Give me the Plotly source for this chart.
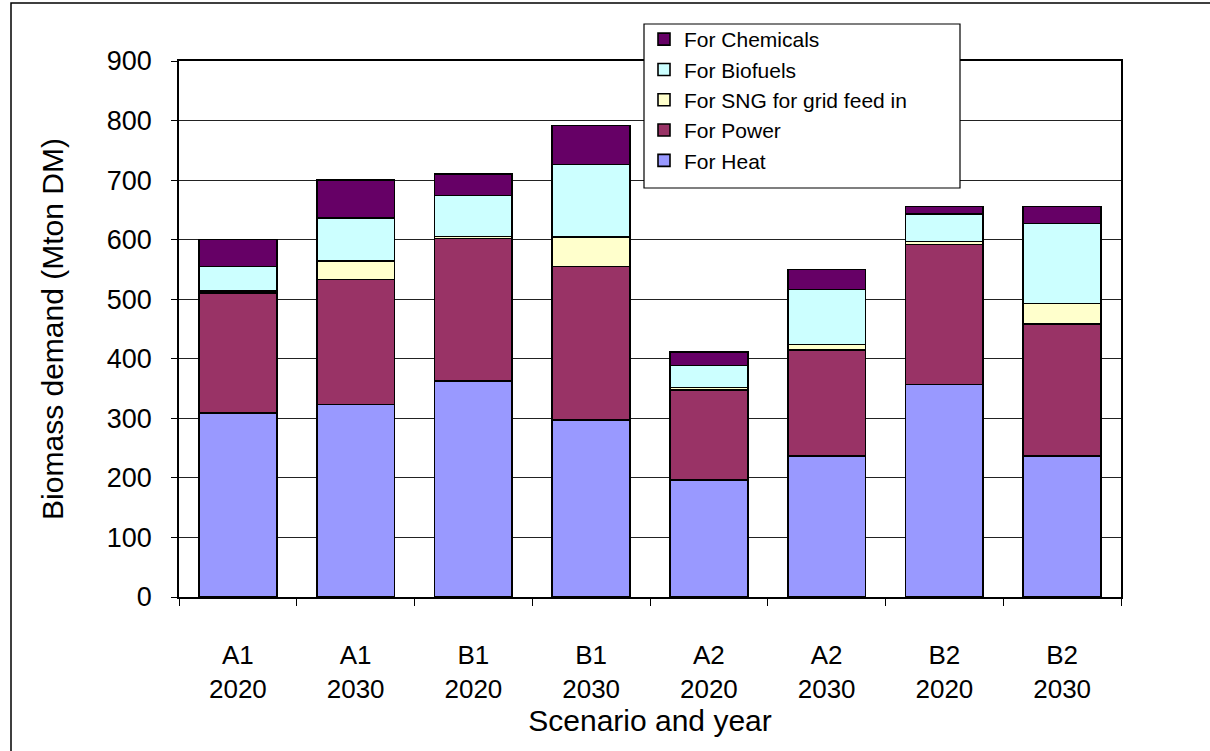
import plotly.graph_objects as go

# Scenario / year categories (two-line tick labels)
categories = ["A1<br>2020", "A1<br>2030", "B1<br>2020", "B1<br>2030",
              "A2<br>2020", "A2<br>2030", "B2<br>2020", "B2<br>2030"]

# Biomass demand per end use, Mton DM
heat      = [309, 323, 363, 297, 196, 237, 357, 237]
power     = [201, 210, 239, 258, 152, 178, 235, 221]
sng_grid  = [4, 31, 3, 49, 4, 9, 5, 35]
biofuels  = [41, 72, 69, 122, 37, 92, 46, 134]
chemicals = [45, 64, 36, 66, 22, 34, 13, 29]

series = [
    ("For Heat", heat, "#9999FF"),
    ("For Power", power, "#993366"),
    ("For SNG for grid feed in", sng_grid, "#FFFFCC"),
    ("For Biofuels", biofuels, "#CCFFFF"),
    ("For Chemicals", chemicals, "#660066"),
]

FONT = "Arial, Liberation Sans, sans-serif"

# plot area in pixels: x 179..1121, y 61..597
PL, PR, PT, PB = 179, 1121, 61, 597
W, H = PR - PL, PB - PT


def px_x(x):
    return (x - PL) / W


def px_y(y):
    return (PB - y) / H


fig = go.Figure()
for name, vals, color in series:
    fig.add_trace(go.Bar(
        x=categories, y=vals, name=name, legendgroup=name,
        marker=dict(color=color, line=dict(color="#000000", width=1.6)),
    ))

fig.update_layout(
    width=1210, height=751,
    margin=dict(l=PL, r=1210 - PR, t=PT, b=751 - PB, autoexpand=False),
    paper_bgcolor="white", plot_bgcolor="white",
    barmode="stack", bargap=0.34,
    font=dict(family=FONT, color="#000000"),
    showlegend=True,
    legend=dict(
        x=px_x(644), y=px_y(19), xanchor="left", yanchor="top",
        bgcolor="rgba(0,0,0,0)", borderwidth=0,
        font=dict(family=FONT, size=21, color="#000000"),
        traceorder="reversed", tracegroupgap=22,
        itemclick=False,
    ),
)

fig.update_yaxes(
    range=[0, 900], dtick=100, tick0=0,
    showgrid=True, gridcolor="#222222", gridwidth=1,
    showline=True, linecolor="#000000", linewidth=1.5, mirror=True,
    ticks="outside", ticklen=6, tickcolor="#000000", tickwidth=1,
    ticklabelstandoff=14,
    tickfont=dict(family=FONT, size=27),
    title=dict(text="Biomass demand (Mton DM)", font=dict(family=FONT, size=30), standoff=34),
    zeroline=False,
)
fig.update_xaxes(
    type="category", tickson="boundaries",
    showline=True, linecolor="#000000", linewidth=1.5, mirror=True,
    ticks="outside", ticklen=7, tickcolor="#000000", tickwidth=1,
    ticklabelstandoff=34,
    tickfont=dict(family=FONT, size=26),
    title=dict(text="Scenario and year", font=dict(family=FONT, size=30), standoff=4),
)

# Legend frame (white box with black border) behind the legend entries
fig.add_shape(type="rect", xref="paper", yref="paper",
              x0=px_x(644), x1=px_x(960), y0=px_y(188), y1=px_y(24),
              fillcolor="white", line=dict(color="#000000", width=1.2), layer="above")

# Outer frame around the chart area
fig.add_shape(type="rect", xref="paper", yref="paper",
              x0=px_x(11), x1=px_x(1230), y0=px_y(770), y1=px_y(3),
              line=dict(color="#000000", width=1.5), layer="below")

fig.write_html("out.html")
